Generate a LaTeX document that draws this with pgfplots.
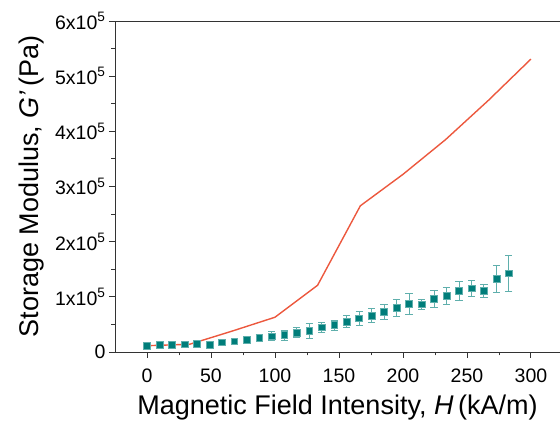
\documentclass[border=0pt]{standalone}
\usepackage{fontspec}
\setmainfont{Liberation Sans}
\usepackage{pgfplots}
\pgfplotsset{compat=1.18}

\definecolor{lineRed}{RGB}{236,88,62}
\definecolor{markTeal}{RGB}{0,125,122}
\definecolor{errTeal}{RGB}{95,175,172}

\pgfplotstableread{
x       y       e
0       11400   2000
9.75    13200   2000
19.5    13200   2000
29.25   13900   2000
39      14500   2000
48.75   12700   2000
58.5    17600   3000
68.25   19400   3000
78      22300   5000
87.75   25400   6000
97.5    28400   8000
107.25  30800   9000
117     35000   9000
126.75  38000   13000
136.5   44700   9000
146.25  48900   9000
156     54900   11000
165.75  61000   12000
175.5   66400   13000
185.25  72500   14000
195     79700   15700
204.75  87500   19000
214.5   86400   8500
224.25  96600   15000
234     102000  15000
243.75  110500  17000
253.5   115400  14000
263.25  111100  12000
273     132800  24000
282.75  142600  33000
}\measured

\pgfplotstableread{
x       y
0       11400
33.3    14000
66.7    38000
100     63000
133.3   121000
166.7   265000
200     322000
233.3   385000
266.7   456000
300     531000
}\model

\begin{document}
\begin{tikzpicture}
\begin{axis}[
    scale only axis,
    width=445pt, height=331pt,
    xmin=-25, xmax=322.7,
    ymin=0, ymax=600000,
    axis x line*=bottom,
    axis y line*=left,
    axis line style={black!80, line width=0.9pt},
    every tick/.style={black!80, line width=0.9pt},
    tick align=outside,
    major tick length=6pt,
    minor tick length=3.5pt,
    xtick={0,50,...,300},
    minor x tick num=1,
    ytick={0,100000,200000,300000,400000,500000,600000},
    minor y tick num=1,
    yticklabels={0,1x10\textsuperscript{5},2x10\textsuperscript{5},3x10\textsuperscript{5},4x10\textsuperscript{5},5x10\textsuperscript{5},6x10\textsuperscript{5}},
    scaled y ticks=false,
    /pgf/number format/assume math mode=true,
    tick label style={font=\fontsize{19.5}{23}\selectfont},
    xticklabel shift=7pt,
    label style={font=\fontsize{27}{31}\selectfont},
    xlabel shift=6pt,
    ylabel shift=4pt,
    xlabel={Magnetic Field Intensity, \textit{H}\,(kA/m)},
    ylabel={Storage Modulus, \textit{G'}\,(Pa)},
    clip=false,
]
\addplot[
    only marks,
    mark=square*,
    mark size=3.4pt,
    mark options={fill=markTeal, draw=errTeal, line width=0.5pt},
    error bars/.cd,
        y dir=both, y explicit,
        error bar style={errTeal, line width=0.9pt},
        error mark options={errTeal, rotate=90, mark size=3.6pt, line width=0.9pt},
] table[x=x, y=y, y error=e] {\measured};
\addplot[lineRed, line width=1.4pt, no marks] table[x=x, y=y] {\model};
\draw[black!80, line width=0.9pt] (rel axis cs:0,1) -- (rel axis cs:1,1);
\coordinate (O) at (rel axis cs:0,0);
\end{axis}
\pgfresetboundingbox
\path[use as bounding box] ([shift={(-115pt,-75pt)}]O) rectangle ([shift={(445pt,352pt)}]O);
\end{tikzpicture}
\end{document}
